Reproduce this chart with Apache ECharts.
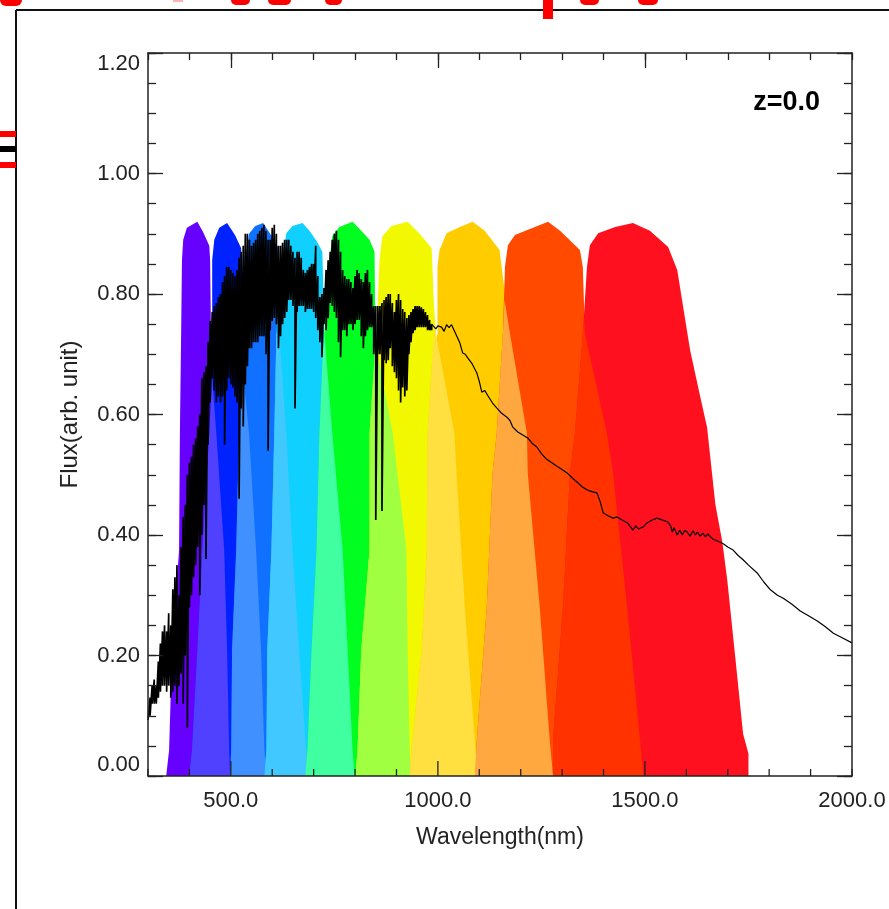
<!DOCTYPE html>
<html><head><meta charset="utf-8">
<script src="https://cdn.jsdelivr.net/npm/echarts@6/dist/echarts.min.js"></script>
<style>html,body{margin:0;padding:0;background:#fff}#c{width:889px;height:909px}</style>
</head><body><div id="c"></div>
<script>
// ---------- tick labels ----------
const xTickLabels = [500, 1000, 1500, 2000];
const xTicks = [300,400,500,600,700,800,900,1000,1100,1200,1300,1400,1500,1600,1700,1800,1900,2000];
const xLongTicks = [500, 1000, 1500];
const yTickLabels = [0, 0.2, 0.4, 0.6, 0.8, 1.0, 1.2];

// ---------- filter transmission outlines [wavelength nm, transmission] ----------
const filterViolet = [[344,0],[351,0.043],[358,0.209],[375,0.375],[377,0.569],[380,0.735],[382,0.856],[385,0.890],[394,0.910],[419,0.920],[433,0.903],[448,0.880],[450,0.856],[452,0.735],[465,0.569],[484,0.375],[491,0.209],[496,0.043],[498,0]];
const filterBlue = [[399,0],[406,0.043],[419,0.209],[431,0.375],[448,0.569],[455,0.735],[455,0.856],[460,0.890],[472,0.910],[491,0.918],[510,0.898],[525,0.876],[525,0.735],[544,0.569],[561,0.375],[573,0.209],[581,0.043],[586,0]];
const filterAzure = [[498,0],[501,0.043],[503,0.209],[513,0.375],[520,0.569],[525,0.735],[535,0.856],[544,0.900],[559,0.913],[578,0.918],[597,0.898],[615,0.876],[617,0.735],[634,0.569],[649,0.375],[665,0.209],[682,0.043],[685,0]];
const filterCyan = [[581,0],[586,0.043],[588,0.209],[598,0.375],[605,0.569],[610,0.735],[624,0.856],[634,0.901],[649,0.913],[673,0.918],[690,0.905],[709,0.886],[721,0.870],[726,0.735],[745,0.569],[770,0.375],[782,0.209],[794,0.043],[799,0]];
const filterGreen = [[680,0],[685,0.043],[695,0.209],[707,0.375],[714,0.569],[726,0.735],[738,0.856],[745,0.896],[762,0.911],[794,0.920],[811,0.908],[835,0.890],[847,0.870],[849,0.735],[891,0.569],[924,0.375],[927,0.209],[932,0.043],[934,0]];
const filterYellow = [[801,0],[806,0.043],[815,0.209],[835,0.375],[835,0.569],[852,0.735],[859,0.856],[866,0.896],[888,0.913],[927,0.920],[956,0.900],[985,0.876],[990,0.790],[995,0.735],[1040,0.569],[1045,0.503],[1065,0.280],[1089,0.060],[1096,0]];
const filterGold = [[932,0],[936,0.043],[961,0.209],[973,0.375],[975,0.569],[985,0.679],[999,0.735],[999,0.845],[1004,0.873],[1021,0.901],[1053,0.911],[1084,0.920],[1113,0.905],[1149,0.873],[1154,0.845],[1174,0.735],[1215,0.569],[1217,0.503],[1246,0.280],[1270,0.060],[1278,0]];
const filterOrange = [[1089,0],[1094,0.060],[1118,0.280],[1132,0.503],[1142,0.569],[1157,0.735],[1162,0.845],[1169,0.881],[1186,0.898],[1222,0.908],[1266,0.920],[1295,0.905],[1343,0.873],[1350,0.845],[1355,0.735],[1408,0.569],[1423,0.503],[1457,0.280],[1488,0.060],[1496,0]];
const filterRed = [[1278,0],[1278,0.060],[1302,0.280],[1319,0.503],[1331,0.569],[1350,0.735],[1360,0.845],[1367,0.881],[1387,0.901],[1428,0.911],[1471,0.918],[1512,0.905],[1556,0.878],[1578,0.840],[1609,0.707],[1633,0.631],[1650,0.579],[1670,0.451],[1687,0.388],[1699,0.324],[1718,0.198],[1737,0.070],[1750,0.037],[1750,0]];

// overlap regions of neighbouring filters
const overlapVB = [[399,0],[406,0.043],[419,0.209],[431,0.375],[448,0.569],[455,0.66],[465,0.569],[484,0.375],[491,0.209],[496,0.043],[498,0]];
const overlapBA = [[498,0],[501,0.043],[503,0.209],[513,0.375],[520,0.569],[525,0.70],[544,0.569],[561,0.375],[573,0.209],[581,0.043],[586,0]];
const overlapAC = [[581,0],[586,0.043],[588,0.209],[598,0.375],[605,0.569],[610,0.735],[617,0.735],[634,0.569],[649,0.375],[665,0.209],[682,0.043],[685,0]];
const overlapCG = [[680,0],[685,0.043],[695,0.209],[707,0.375],[714,0.569],[722,0.70],[726,0.735],[745,0.569],[770,0.375],[782,0.209],[794,0.043],[799,0]];
const overlapGY = [[801,0],[806,0.043],[815,0.209],[835,0.375],[835,0.569],[849,0.72],[891,0.569],[924,0.375],[927,0.209],[932,0.043],[934,0]];
const overlapYG = [[932,0],[936,0.043],[961,0.209],[973,0.375],[975,0.569],[985,0.679],[993,0.76],[995,0.735],[1040,0.569],[1045,0.503],[1065,0.280],[1089,0.060],[1096,0]];
const overlapGO = [[1089,0],[1094,0.060],[1118,0.280],[1132,0.503],[1142,0.569],[1157,0.735],[1161,0.79],[1174,0.735],[1215,0.569],[1217,0.503],[1246,0.280],[1270,0.060],[1278,0]];
const overlapOR = [[1278,0],[1278,0.060],[1302,0.280],[1319,0.503],[1331,0.569],[1350,0.735],[1353,0.76],[1355,0.735],[1408,0.569],[1423,0.503],[1457,0.280],[1488,0.060],[1496,0]];

const filterShapes = [filterViolet, filterBlue, filterAzure, filterCyan, filterGreen, filterYellow, filterGold, filterOrange, filterRed];
const filterColors = ['#6600ff','#0022ff','#1070ff','#10d0ff','#00ff20','#f2f800','#ffcc00','#ff4a00','#ff101e'];
const overlapShapes = [overlapVB, overlapBA, overlapAC, overlapCG, overlapGY, overlapYG, overlapGO, overlapOR];
const overlapColors = ['#5040ff','#4090ff','#40c8ff','#40ffa0','#a0ff40','#ffe040','#ffa840','#ff3200'];

// ---------- galaxy spectrum ----------
// noisy part: [wavelength, upper flux, lower flux]
const spectrumNoisy = [
[300,.093,.093],[305,.13,.10],[310,.15,.12],[315,.16,.12],[320,.15,.12],[325,.19,.13],[330,.22,.14],[335,.24,.15],[340,.25,.15],[345,.24,.14],
[350,.27,.15],[355,.25,.13],[360,.31,.14],[365,.33,.15],[370,.35,.12],[375,.30,.15],[380,.38,.17],[385,.43,.12],[390,.45,.20],[395,.50,.08],
[400,.52,.28],[405,.53,.30],[410,.55,.33],[415,.56,.35],[420,.58,.38],[425,.60,.30],[430,.66,.40],[435,.67,.45],[440,.68,.36],[445,.72,.55],
[450,.755,.62],[455,.77,.66],[460,.78,.64],[465,.785,.62],[470,.795,.63],[475,.80,.62],[480,.82,.63],[485,.83,.55],[490,.845,.64],[495,.845,.66],
[500,.84,.65],[505,.835,.645],[510,.83,.63],[515,.84,.62],[520,.86,.46],[525,.87,.61],[530,.88,.58],[535,.90,.65],[540,.90,.68],[545,.89,.71],
[550,.88,.71],[555,.885,.72],[560,.89,.72],[565,.90,.72],[570,.905,.73],[575,.91,.73],[580,.915,.73],[585,.905,.70],[590,.89,.54],[595,.89,.74],
[600,.91,.755],[605,.915,.76],[610,.90,.75],[615,.88,.71],[620,.88,.73],[625,.885,.75],[630,.89,.76],[635,.89,.77],[640,.89,.79],[645,.88,.79],
[650,.87,.78],[655,.86,.61],[660,.87,.77],[665,.87,.78],[670,.86,.78],[675,.84,.78],[680,.835,.77],[685,.84,.775],[690,.845,.775],[695,.85,.775],
[700,.85,.77],[705,.88,.76],[710,.83,.74],[715,.795,.72],[720,.80,.695],[725,.81,.75],[730,.84,.74],[735,.856,.76],[740,.87,.785],[745,.89,.78],
[750,.90,.77],[755,.905,.76],[760,.89,.72],[765,.87,.695],[770,.84,.74],[775,.83,.74],[780,.825,.73],[785,.825,.75],[790,.82,.75],[795,.81,.74],
[800,.83,.75],[805,.84,.757],[810,.835,.757],[815,.825,.73],[820,.82,.71],[825,.835,.73],[830,.84,.74],[835,.82,.745],[840,.80,.745],[845,.78,.70],
[850,.78,.425],[855,.78,.70],[860,.78,.70],[865,.785,.44],[870,.79,.69],[875,.795,.685],[880,.80,.69],[885,.80,.71],[890,.785,.68],[895,.77,.67],
[900,.79,.66],[905,.80,.64],[910,.79,.62],[915,.775,.645],[920,.77,.63],[925,.76,.64],[930,.765,.70],[935,.77,.72],[940,.775,.735],[945,.78,.74],
[950,.78,.745],[955,.78,.745],[960,.778,.745],[965,.775,.745],[970,.77,.745],[975,.765,.74],[980,.757,.74],[985,.75,.74]
];
// smooth part: [wavelength, flux]
const spectrumSmooth = [
[987,.749],[995,.742],[1000,.747],[1009,.745],[1015,.738],[1021,.749],[1027,.744],[1033,.749],[1041,.737],[1053,.719],[1060,.702],[1066,.700],
[1072,.694],[1082,.685],[1094,.669],[1100,.655],[1106,.637],[1113,.640],[1120,.632],[1132,.619],[1142,.611],[1154,.602],[1166,.596],[1174,.590],
[1181,.579],[1193,.571],[1205,.566],[1217,.561],[1228,.552],[1239,.546],[1250,.535],[1262,.526],[1283,.516],[1297,.510],[1312,.503],[1324,.495],
[1336,.488],[1348,.480],[1360,.475],[1372,.472],[1384,.470],[1392,.455],[1399,.437],[1411,.432],[1423,.428],[1433,.430],[1445,.425],[1458,.420],
[1471,.408],[1478,.415],[1484,.410],[1495,.413],[1505,.420],[1518,.425],[1529,.428],[1541,.425],[1554,.422],[1562,.415],[1566,.405],[1570,.412],
[1578,.400],[1584,.408],[1590,.400],[1596,.408],[1602,.405],[1609,.398],[1616,.407],[1622,.400],[1627,.405],[1633,.398],[1640,.403],[1646,.397],
[1652,.402],[1658,.397],[1665,.393],[1682,.388],[1690,.385],[1700,.380],[1713,.375],[1725,.366],[1737,.359],[1750,.350],[1771,.337],[1787,.322],
[1803,.309],[1820,.300],[1834,.295],[1855,.285],[1875,.274],[1895,.266],[1917,.257],[1935,.248],[1955,.237],[1975,.230],[2000,.221]
];

// spectrum polyline: vertical strokes between upper and lower flux in the noisy part, then the smooth tail
const spectrumNoisyLine = [];
spectrumNoisy.forEach(p => { spectrumNoisyLine.push([p[0], p[1]]); spectrumNoisyLine.push([p[0], p[2]]); });
const spectrumTail = [spectrumNoisy[spectrumNoisy.length - 1].slice(0, 2)].concat(spectrumSmooth);

const FONT = '"Liberation Sans", Arial, sans-serif';
const AX = '#222';

function polyRender(shapes, colors) {
  return function (params, api) {
    const i = params.dataIndex;
    const pts = shapes[i].map(p => api.coord(p));
    return { type: 'polygon', shape: { points: pts }, style: { fill: colors[i] } };
  };
}

function bottomTickRender(params, api) {
  const v = xTicks[params.dataIndex];
  const p = api.coord([v, 0]);
  const len = xLongTicks.indexOf(v) >= 0 ? 15 : 7;
  return { type: 'line', shape: { x1: p[0], y1: p[1], x2: p[0], y2: p[1] - len },
    style: { stroke: AX, lineWidth: 1.3 } };
}

const chart = echarts.init(document.getElementById('c'), null, { renderer: 'canvas' });

const baseX = { type: 'value', min: 300, max: 2000, interval: 100, z: 10,
  splitLine: { show: false } };
const baseY = { type: 'value', min: 0, max: 1.2, interval: 0.05, z: 10,
  splitLine: { show: false } };

chart.setOption({
  animation: false,
  backgroundColor: '#fff',
  grid: { left: 148, right: 37, top: 53, bottom: 133, show: false },
  xAxis: [
    Object.assign({}, baseX, {
      position: 'bottom',
      axisLine: { show: true, onZero: false, lineStyle: { color: AX, width: 1.5 } },
      axisTick: { show: false },
      axisLabel: { show: true, customValues: xTickLabels, formatter: v => v.toFixed(1),
        fontFamily: FONT, fontSize: 22, color: '#222', margin: 14 },
      name: 'Wavelength(nm)', nameLocation: 'middle', nameGap: 50,
      nameTextStyle: { fontFamily: FONT, fontSize: 23, color: '#222' }
    }),
    Object.assign({}, baseX, {
      position: 'top',
      axisLine: { show: true, onZero: false, lineStyle: { color: AX, width: 1.5 } },
      axisTick: { show: true, inside: true, length: 7, lineStyle: { color: AX, width: 1.3 } },
      axisLabel: { show: false }
    }),
    Object.assign({}, baseX, {
      position: 'top',
      axisLine: { show: false, onZero: false },
      axisTick: { show: true, inside: true, length: 15, customValues: xLongTicks, lineStyle: { color: AX, width: 1.3 } },
      axisLabel: { show: false }
    })
  ],
  yAxis: [
    Object.assign({}, baseY, {
      position: 'left',
      axisLine: { show: true, onZero: false, lineStyle: { color: AX, width: 1.5 } },
      axisTick: { show: true, inside: true, length: 8, lineStyle: { color: AX, width: 1.3 } },
      axisLabel: { show: true, customValues: yTickLabels, formatter: v => v.toFixed(2),
        fontFamily: FONT, fontSize: 22, color: '#222', margin: 8,
        verticalAlignMinLabel: 'bottom', verticalAlignMaxLabel: 'top' },
      name: 'Flux(arb. unit)', nameLocation: 'middle', nameGap: 66, nameRotate: 90,
      nameTextStyle: { fontFamily: FONT, fontSize: 24, color: '#222' }
    }),
    Object.assign({}, baseY, {
      position: 'left',
      axisLine: { show: false, onZero: false },
      axisTick: { show: true, inside: true, length: 15, customValues: yTickLabels, lineStyle: { color: AX, width: 1.3 } },
      axisLabel: { show: false }
    }),
    Object.assign({}, baseY, {
      position: 'right',
      axisLine: { show: true, onZero: false, lineStyle: { color: AX, width: 1.5 } },
      axisTick: { show: true, inside: true, length: 8, lineStyle: { color: AX, width: 1.3 } },
      axisLabel: { show: false }
    }),
    Object.assign({}, baseY, {
      position: 'right',
      axisLine: { show: false, onZero: false },
      axisTick: { show: true, inside: true, length: 15, customValues: yTickLabels, lineStyle: { color: AX, width: 1.3 } },
      axisLabel: { show: false }
    })
  ],
  series: [
    {
      type: 'custom', name: 'filters', xAxisIndex: 0, yAxisIndex: 0, z: 1, clip: true,
      renderItem: polyRender(filterShapes, filterColors),
      data: filterShapes.map(s => [s[0][0], 0])
    },
    {
      type: 'custom', name: 'overlaps', xAxisIndex: 0, yAxisIndex: 0, z: 2, clip: true,
      renderItem: polyRender(overlapShapes, overlapColors),
      data: overlapShapes.map(s => [s[0][0], 0])
    },
    {
      type: 'line', name: 'spectrum noisy', xAxisIndex: 0, yAxisIndex: 0, z: 3,
      data: spectrumNoisyLine, showSymbol: false, symbol: 'none', smooth: false, sampling: null,
      lineStyle: { color: '#000', width: 1.7 }, clip: true
    },
    {
      type: 'line', name: 'spectrum', xAxisIndex: 0, yAxisIndex: 0, z: 3,
      data: spectrumTail, showSymbol: false, symbol: 'none', smooth: false, sampling: null,
      lineStyle: { color: '#000', width: 1.2 }, clip: true
    },
    {
      type: 'custom', name: 'bottom ticks', xAxisIndex: 0, yAxisIndex: 0, z: 6, clip: false,
      renderItem: bottomTickRender,
      data: xTicks.map(v => [v, 0])
    }
  ],
  graphic: [
    { type: 'line', shape: { x1: 16, y1: 10, x2: 889, y2: 10 }, style: { stroke: '#111', lineWidth: 2 } },
    { type: 'line', shape: { x1: 16, y1: 10, x2: 16, y2: 909 }, style: { stroke: '#111', lineWidth: 2 } },
    { type: 'rect', shape: { x: 0, y: 0, width: 22, height: 6, r: [0, 0, 8, 8] }, style: { fill: '#ff0000' } },
    { type: 'rect', shape: { x: 173, y: 0, width: 10, height: 2 }, style: { fill: '#ffb0b0' } },
    { type: 'rect', shape: { x: 231, y: 0, width: 19, height: 5, r: [0, 0, 6, 6] }, style: { fill: '#ff0000' } },
    { type: 'rect', shape: { x: 268, y: 0, width: 23, height: 5, r: [0, 0, 6, 6] }, style: { fill: '#ff0000' } },
    { type: 'rect', shape: { x: 325, y: 0, width: 17, height: 5, r: [0, 0, 6, 6] }, style: { fill: '#ff0000' } },
    { type: 'rect', shape: { x: 543, y: 0, width: 10, height: 19 }, style: { fill: '#ff0000' } },
    { type: 'rect', shape: { x: 580, y: 0, width: 19, height: 5, r: [0, 0, 6, 6] }, style: { fill: '#ff0000' } },
    { type: 'rect', shape: { x: 638, y: 0, width: 20, height: 5, r: [0, 0, 6, 6] }, style: { fill: '#ff0000' } },
    { type: 'rect', shape: { x: 0, y: 131, width: 16, height: 6 }, style: { fill: '#ff0000' } },
    { type: 'rect', shape: { x: 0, y: 146, width: 16, height: 6 }, style: { fill: '#000' } },
    { type: 'rect', shape: { x: 0, y: 162, width: 16, height: 6 }, style: { fill: '#ff0000' } },
    { type: 'text', x: 820, y: 103, style: { text: 'z=0.0', align: 'right', verticalAlign: 'middle',
      font: 'bold 27px "Liberation Sans", Arial, sans-serif', fill: '#000' } }
  ]
});
</script>
</body></html>
